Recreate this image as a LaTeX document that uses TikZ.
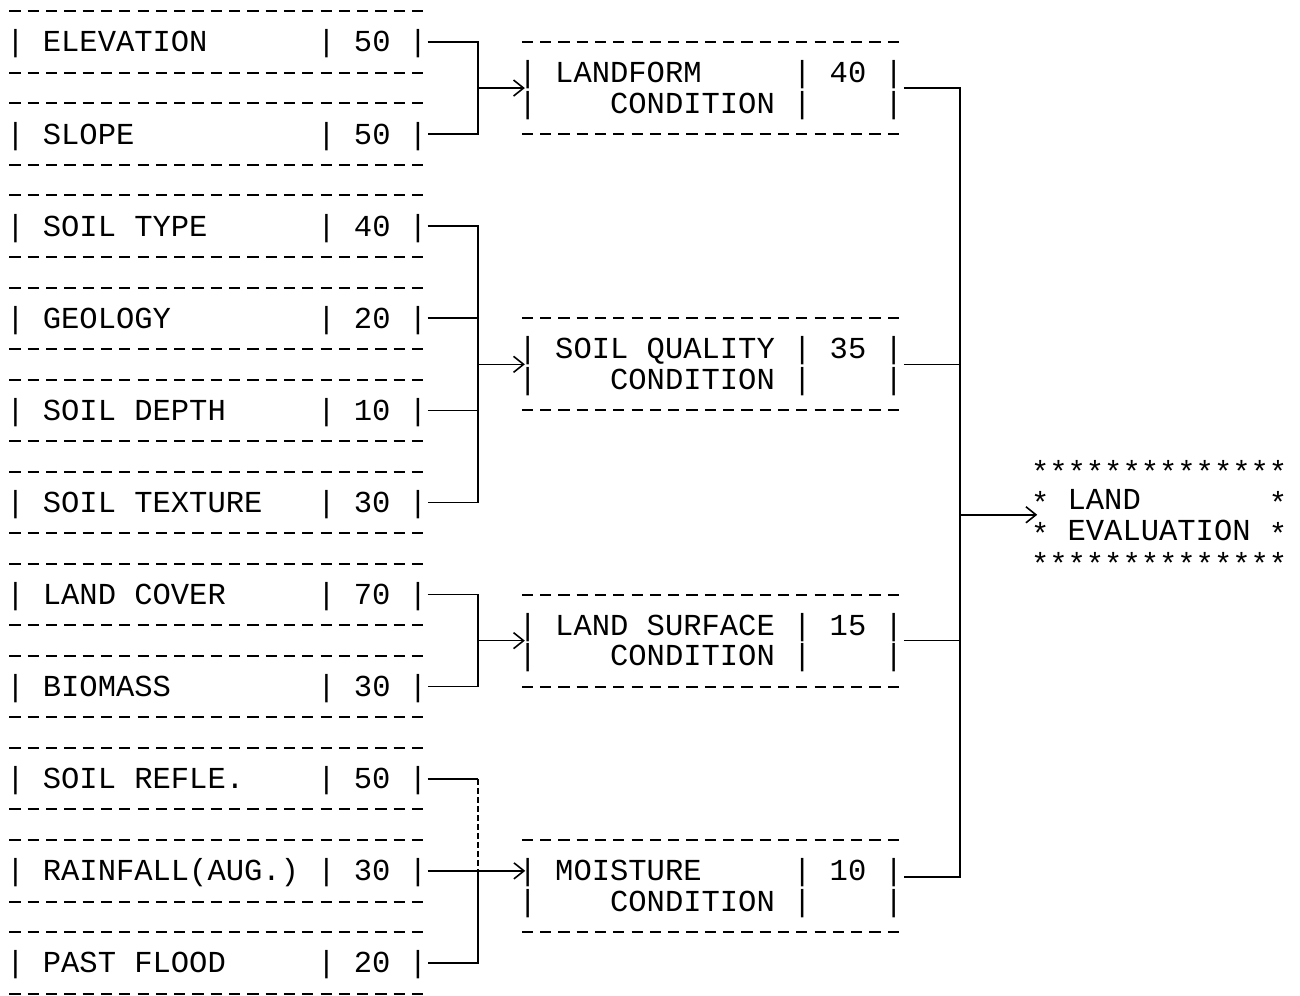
\documentclass[tikz,border=0pt]{standalone}
\usepackage{fontspec}
\newfontfamily\lp{Liberation Mono}
\usetikzlibrary{arrows.meta,fit,calc}
\newlength\cw
\setlength\cw{9.15pt}
\newcommand\lbl[2]{|~\makebox[15\cw][l]{#1}|~#2~|}
\newcommand\mlbl[2]{|~\makebox[13\cw][l]{#1}|~#2~|}
\newcommand\st{\raisebox{-2pt}{*}}
\begin{document}
\begin{tikzpicture}[x=9.15pt, y=-15.35pt,
  row/.style={anchor=west, inner sep=0pt, font=\lp\fontsize{15.25}{15.35}\selectfont, text height=12pt, text depth=2pt},
  dashrow/.style={line width=1pt, dash pattern=on 5.6pt off 3.55pt},
  wire/.style={line width=0.8pt},
  faint/.style={line width=0.7pt, dash pattern=on 3pt off 1.5pt},
  arr/.style={wire, -{Straight Barb[length=5pt,width=8pt]}, shorten >=-3.5pt}]
\useasboundingbox (-0.82,-0.368) rectangle (70.22,32.07);

% left items: dashed rules
\foreach \k in {0,2,3,5,6,8,9,11,12,14,15,17,18,20,21,23,24,26,27,29,30,32}
  \draw[dashrow] (-0.306,\k) -- (22.5,\k);

\node[row] (elev)  at (-0.5,1)  {\lbl{ELEVATION}{50}};
\node[row] (slope) at (-0.5,4)  {\lbl{SLOPE}{50}};
\node[row] (stype) at (-0.5,7)  {\lbl{SOIL~TYPE}{40}};
\node[row] (geol)  at (-0.5,10) {\lbl{GEOLOGY}{20}};
\node[row] (sdep)  at (-0.5,13) {\lbl{SOIL~DEPTH}{10}};
\node[row] (stex)  at (-0.5,16) {\lbl{SOIL~TEXTURE}{30}};
\node[row] (lcov)  at (-0.5,19) {\lbl{LAND~COVER}{70}};
\node[row] (bio)   at (-0.5,22) {\lbl{BIOMASS}{30}};
\node[row] (refl)  at (-0.5,25) {\lbl{SOIL~REFLE.}{50}};
\node[row] (rain)  at (-0.5,28) {\lbl{RAINFALL(AUG.)}{30}};
\node[row] (flood) at (-0.5,31) {\lbl{PAST~FLOOD}{20}};

% middle boxes
\foreach \k in {1,4,10,13,19,22,27,30}
  \draw[dashrow] (27.694,\k) -- (48.5,\k);

\node[row] (lf1) at (27.5,2)  {\mlbl{LANDFORM}{40}};
\node[row] (lf2) at (27.5,3)  {|~~~~CONDITION~|~~~~|};
\node[row] (sq1) at (27.5,11) {\mlbl{SOIL~QUALITY}{35}};
\node[row] (sq2) at (27.5,12) {|~~~~CONDITION~|~~~~|};
\node[row] (ls1) at (27.5,20) {\mlbl{LAND~SURFACE}{15}};
\node[row] (ls2) at (27.5,21) {|~~~~CONDITION~|~~~~|};
\node[row] (mo1) at (27.5,28) {\mlbl{MOISTURE}{10}};
\node[row] (mo2) at (27.5,29) {|~~~~CONDITION~|~~~~|};
\node[fit=(lf1)(lf2), inner sep=0pt] (landform) {};
\node[fit=(sq1)(sq2), inner sep=0pt] (soilq) {};
\node[fit=(ls1)(ls2), inner sep=0pt] (landsurf) {};
\node[fit=(mo1)(mo2), inner sep=0pt] (moist) {};

% land evaluation
\node[row] (le1) at (55.5,14.9) {\st\st\st\st\st\st\st\st\st\st\st\st\st\st};
\node[row] (le2) at (55.5,15.9) {\st~LAND~~~~~~~\st};
\node[row] (le3) at (55.5,16.9) {\st~EVALUATION~\st};
\node[row] (le4) at (55.5,17.9) {\st\st\st\st\st\st\st\st\st\st\st\st\st\st};
\node[fit=(le2)(le3), inner sep=0pt] (landeval) {};

% buses
\coordinate (lbus) at (25.3,0);
\coordinate (rbus) at (51.64,0);

\draw[wire] (elev.east) -- (elev.east -| lbus) -- (slope.east -| lbus) -- (slope.east);
\draw[arr] (landform.west -| lbus) -- (landform.west);

\draw[wire] (stype.east) -- (stype.east -| lbus) -- (stex.east -| lbus) -- (stex.east);
\draw[wire] (geol.east) -- (geol.east -| lbus);
\draw[wire] (sdep.east) -- (sdep.east -| lbus);
\draw[arr] (soilq.west -| lbus) -- (soilq.west);

\draw[wire] (lcov.east) -- (lcov.east -| lbus) -- (bio.east -| lbus) -- (bio.east);
\draw[arr] (landsurf.west -| lbus) -- (landsurf.west);

\draw[wire] (refl.east) -- (refl.east -| lbus);
\draw[faint] (refl.east -| lbus) -- (rain.east -| lbus);
\draw[wire] (rain.east -| lbus) -- (flood.east -| lbus) -- (flood.east);
\draw[arr] (rain.east) -- (mo1.west);

\draw[wire] (landform.east) -- (landform.east -| rbus) |- ($(moist.east)+(0,-0.3)$);
\draw[wire] (soilq.east) -- (soilq.east -| rbus);
\draw[wire] (landsurf.east) -- (landsurf.east -| rbus);
\draw[arr] (landeval.west -| rbus) -- (landeval.west);
\end{tikzpicture}
\end{document}
